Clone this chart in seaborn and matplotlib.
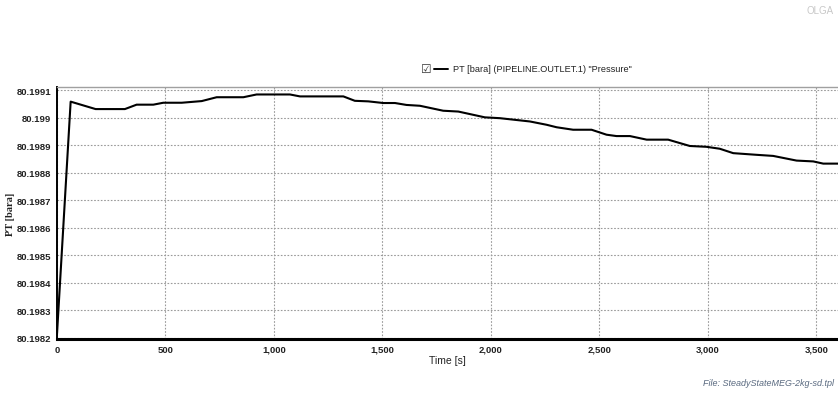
import matplotlib
matplotlib.use("Agg")
import matplotlib.pyplot as plt
import matplotlib.ticker as mticker
import seaborn as sns
import pandas as pd

# Outlet pressure trend from the steady-state MEG run
time_s = [0, 63, 178, 313, 367, 444, 490, 575, 667, 736, 859, 920, 1074, 1120,
          1320, 1373, 1435, 1504, 1558, 1611, 1673, 1780, 1850, 1972, 2041, 2180,
          2257, 2303, 2379, 2464, 2533, 2579, 2641, 2718, 2817, 2917, 2994, 3055,
          3117, 3224, 3301, 3409, 3486, 3532, 3600]
pressure_bara = [80.198213, 80.199058, 80.199031, 80.199031, 80.199047, 80.199047,
                 80.199054, 80.199054, 80.199060, 80.199074, 80.199074, 80.199084,
                 80.199084, 80.199077, 80.199077, 80.199061, 80.199059, 80.199053,
                 80.199053, 80.199046, 80.199043, 80.199025, 80.199022, 80.199001,
                 80.198998, 80.198986, 80.198974, 80.198965, 80.198956, 80.198956,
                 80.198938, 80.198933, 80.198933, 80.198920, 80.198920, 80.198897,
                 80.198894, 80.198887, 80.198871, 80.198865, 80.198861, 80.198844,
                 80.198841, 80.198833, 80.198833]

y_ticks = [80.1982, 80.1983, 80.1984, 80.1985, 80.1986, 80.1987, 80.1988,
           80.1989, 80.199, 80.1991]
x_ticks = [0, 500, 1000, 1500, 2000, 2500, 3000, 3500]

legend_label = 'PT [bara] (PIPELINE.OUTLET.1) "Pressure"'

sns.set_style("white")
plt.rcParams["font.family"] = ["Liberation Sans Narrow", "Liberation Sans", "DejaVu Sans"]

df = pd.DataFrame({"Time [s]": time_s, "PT [bara]": pressure_bara})

fig = plt.figure(figsize=(8.38, 4.02), dpi=100)
ax = fig.add_axes([0.068, 0.154, 0.932, 0.627])

sns.lineplot(data=df, x="Time [s]", y="PT [bara]", ax=ax, color="black",
             linewidth=1.5, legend=False)

ax.set_xlim(0, 3600)
ax.set_ylim(80.198196, 80.199111)
ax.set_xticks(x_ticks)
ax.set_yticks(y_ticks)
ax.xaxis.set_major_formatter(mticker.FuncFormatter(lambda v, p: f"{int(v):,}"))
ax.yaxis.set_major_formatter(mticker.FuncFormatter(lambda v, p: f"{v:.4f}".rstrip("0")))
ax.tick_params(axis="both", length=0, labelsize=6.8, pad=4, colors="#222222")
for lbl in ax.get_xticklabels() + ax.get_yticklabels():
    lbl.set_fontweight("bold")

ax.grid(True, color="#9a9a9a", linestyle=(0, (1.5, 1.5)), linewidth=0.8)

ax.spines["right"].set_visible(False)
ax.spines["top"].set_color("#a0a0a0")
ax.spines["top"].set_linewidth(1.0)
ax.spines["left"].set_color("black")
ax.spines["left"].set_linewidth(1.4)
ax.spines["bottom"].set_color("black")
ax.spines["bottom"].set_linewidth(2.2)

ax.set_xlabel("Time [s]", fontsize=7.5, labelpad=1, color="#222222")
ax.set_ylabel("PT [bara]", fontsize=7.5, fontweight="bold",
              family=["Liberation Serif", "DejaVu Serif"], color="#222222")
ax.yaxis.set_label_coords(-0.054, 0.5)

# legend row above the plot: checkbox, line sample, label
fig.text(0.509, 0.826, "\u2611", fontsize=8.5, ha="center", va="center",
         family=["DejaVu Sans"], color="#333333")
fig.lines.append(plt.Line2D([0.518, 0.535], [0.826, 0.826], transform=fig.transFigure,
                            color="black", linewidth=1.4))
fig.text(0.541, 0.826, legend_label, fontsize=6.6, ha="left", va="center",
         color="#222222")

fig.text(0.995, 0.972, "OLGA", fontsize=7, ha="right", va="center", color="#c8c8c8")
fig.text(0.995, 0.045, "File: SteadyStateMEG-2kg-sd.tpl", fontsize=6.5, ha="right",
         va="center", style="italic", color="#5a6a80")

fig.savefig("out.png", dpi=100)
